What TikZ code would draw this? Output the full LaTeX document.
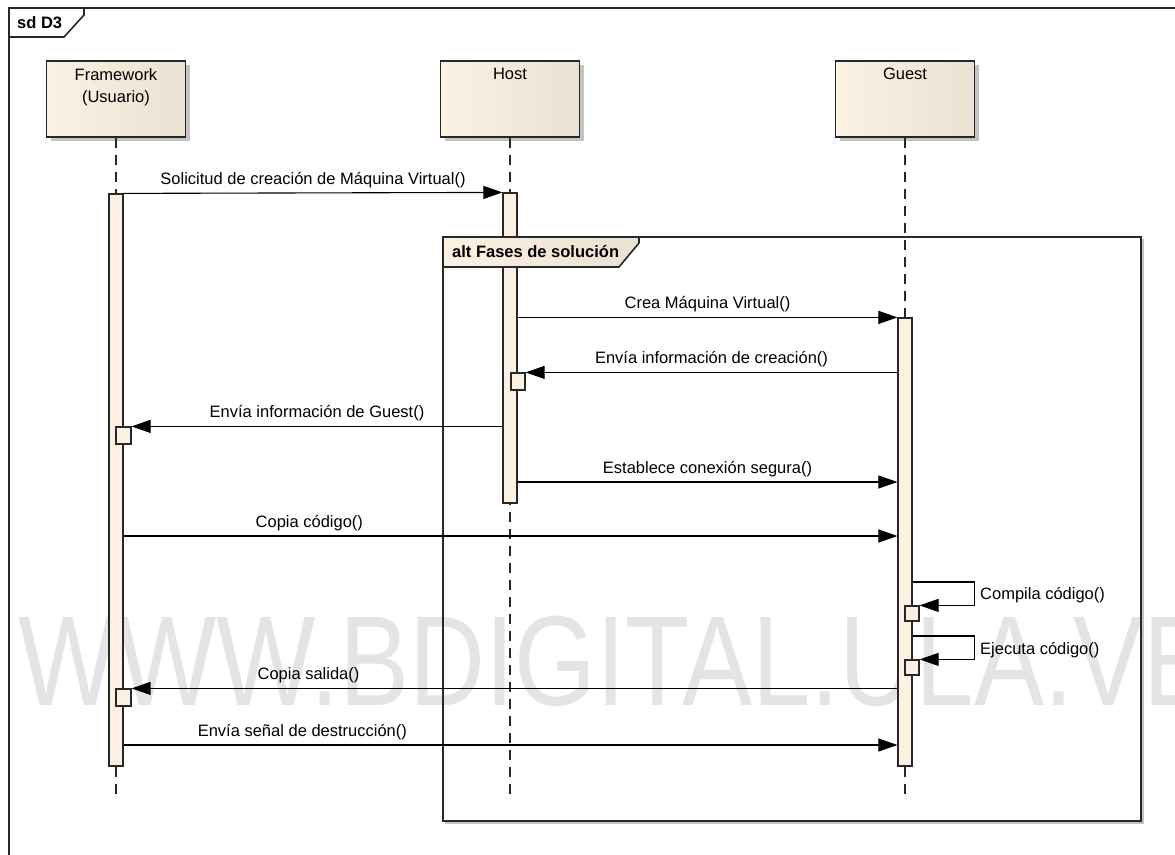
\documentclass[tikz,border=0pt]{standalone}
\usepackage{fontspec}
\setmainfont{Liberation Sans}
\usetikzlibrary{arrows.meta, positioning, calc, shadows}
\definecolor{sdline}{RGB}{40,40,40}
\definecolor{headleft}{RGB}{252,242,228}
\definecolor{headright}{RGB}{234,225,210}
\definecolor{barfill}{RGB}{251,240,225}
\definecolor{shadowgray}{RGB}{195,195,195}
\definecolor{wmgray}{RGB}{228,228,228}
\newcommand{\diafont}{\fontsize{16.5}{22}\selectfont}
\tikzset{
  head/.style={rectangle, draw=sdline, left color=headleft, right color=headright,
    minimum width=139pt, minimum height=76pt, inner sep=0pt, line width=1.6pt,
    drop shadow={shadow xshift=4pt, shadow yshift=-4pt, fill=shadowgray, opacity=1}},
  headtext/.style={font=\diafont, align=center, anchor=north, inner sep=0pt},
  lifeline/.style={draw=sdline, line width=1.2pt, dash pattern=on 10pt off 7pt},
  actbar/.style={rectangle, draw=sdline, fill=barfill, minimum width=14pt,
    inner sep=0pt, line width=1.2pt},
  subbar/.style={actbar, minimum height=17pt},
  msgarrow/.style={-{Triangle[length=19pt, width=13pt]}, line width=1.1pt, color=black},
  msglabel/.style={font=\diafont, inner sep=0pt, above=4.5pt},
  selflabel/.style={font=\diafont, inner sep=0pt, anchor=base west},
  sdframe/.style={draw=sdline, line width=1.6pt}
}

\begin{document}
\begin{tikzpicture}[x=1pt, y=-1pt]
\useasboundingbox (0,0) rectangle (1175,854);
\clip (0,0) rectangle (1175,854);
\fill[white] (0,0) rectangle (1175,854);
% watermark
\node[anchor=base, text=wmgray, inner sep=0pt] (wm) at (616,705)
  {\fontsize{128}{128}\selectfont\scalebox{0.821}[1]{WWW.BDIGITAL.ULA.VE}};
% outer frame
\draw[sdframe] (9,870) |- (1190,8);
\draw[sdframe, fill=white] (9,8) -- (84,8) -- (84,15) -- (64,37) -- (9,37) -- cycle;
\node[font=\diafont\bfseries, inner sep=0pt, anchor=base west] (sdlbl) at (17,28) {sd D3};
% lifelines
\node[head] (fw) at (116,99) {};
\node[head] (host) at (510,99) {};
\node[head] (guest) at (905,99) {};
\node[headtext] (fwtext) at ([yshift=-8pt]fw.north) {Framework\\(Usuario)};
\node[headtext] (hosttext) at ([yshift=-8pt]host.north) {Host};
\node[headtext] (guesttext) at ([yshift=-8pt]guest.north) {Guest};
\coordinate (fwend) at (116,795);
\coordinate (hostend) at (510,795);
\coordinate (guestend) at (905,795);
\draw[lifeline] (fw.south) -- (fwend);
\draw[lifeline] (host.south) -- (hostend);
\draw[lifeline] (guest.south) -- (guestend);
% activations
\node[actbar, minimum height=572pt] (fwbar) at (116,480) {};
\node[actbar, minimum height=310pt] (hostbar) at (510,348) {};
\node[actbar, minimum height=448pt] (guestbar) at (905,542) {};
\node[subbar] (hostsub) at (518,381.5) {};
\node[subbar, minimum width=15pt] (fwsub1) at (123.5,435.5) {};
\node[subbar, minimum width=15pt] (fwsub2) at (123.5,697.5) {};
\node[subbar, minimum height=15pt] (gsub1) at (912,613.5) {};
\node[subbar, minimum height=15pt] (gsub2) at (912,667.5) {};
% alt frame
\draw[draw=shadowgray, line width=1.2pt] (445,823) -| (1143,239);
\draw[sdframe] (443,237) rectangle (1141,821);
\draw[sdframe, left color=headleft, right color=headright]
  (443,237) -- (639,237) -- (639,243) -- (619,267) -- (443,267) -- cycle;
\node[font=\diafont\bfseries, inner sep=0pt, anchor=base west] (altlbl) at (452,257) {alt Fases de solución};
% messages
\draw[msgarrow] (fwbar.north east) -- node[msglabel]{Solicitud de creación de Máquina Virtual()} (hostbar.north west);
\draw[msgarrow] (hostbar.east |- guestbar.north) -- node[msglabel]{Crea Máquina Virtual()} (guestbar.north west);
\draw[msgarrow] (guestbar.west |- hostsub.north) -- node[msglabel]{Envía información de creación()} (hostsub.north east);
\draw[msgarrow] (hostbar.west |- fwsub1.north) -- node[msglabel]{Envía información de Guest()} (fwsub1.north east);
\draw[msgarrow] (hostbar.east |- 0,482) -- node[msglabel]{Establece conexión segura()} (guestbar.west |- 0,482);
\draw[msgarrow] (fwbar.east |- 0,536) -- node[msglabel, pos=0.24]{Copia código()} (guestbar.west |- 0,536);
% self calls
\draw[msgarrow] (guestbar.east |- 0,582) -- ++(62,0) |- (gsub1.north east);
\node[selflabel] (compila) at (980,599) {Compila código()};
\draw[msgarrow] (guestbar.east |- 0,636) -- ++(62,0) |- (gsub2.north east);
\node[selflabel] (ejecuta) at (980,654) {Ejecuta código()};
% return and destroy
\draw[msgarrow] (guestbar.west |- fwsub2.north) -- node[msglabel, pos=0.769]{Copia salida()} (fwsub2.north east);
\draw[msgarrow] (fwbar.east |- 0,745) -- node[msglabel, pos=0.231]{Envía señal de destrucción()} (guestbar.west |- 0,745);
\end{tikzpicture}
\end{document}
